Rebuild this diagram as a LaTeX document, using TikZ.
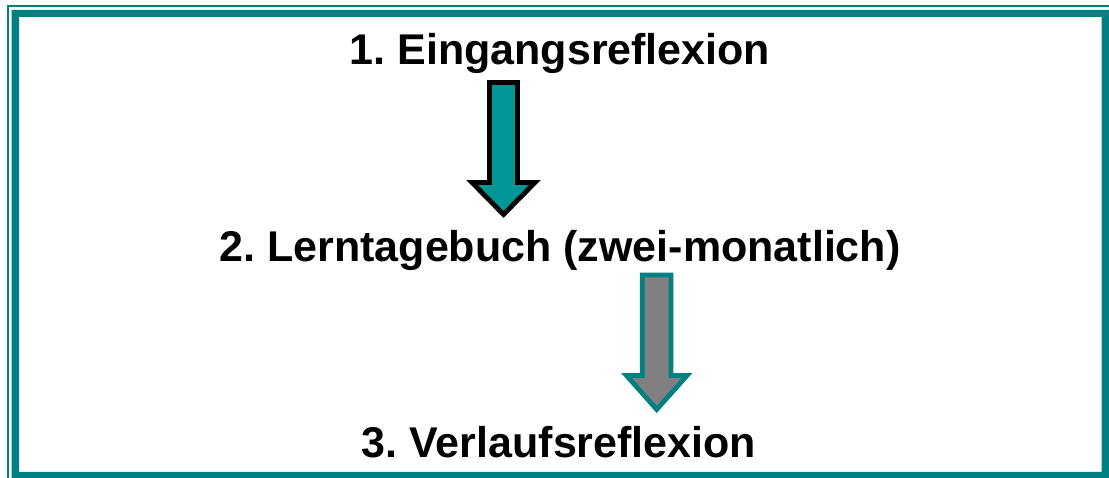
\documentclass[tikz,border=0pt]{standalone}
\usepackage{fontspec}
\setmainfont{Liberation Sans}
\frenchspacing
\definecolor{frameteal}{RGB}{0,128,128}
\definecolor{fillteal}{RGB}{0,150,150}
\definecolor{fillgray}{RGB}{128,128,128}
\tikzset{
  steptext/.style={inner sep=0pt, anchor=base,
    font=\fontsize{43}{50}\selectfont\bfseries},
  blockarrow/.style={line width=4.8pt, line join=miter, miter limit=10},
}
\begin{document}
\begin{tikzpicture}[x=1pt,y=-1pt]
\useasboundingbox (0,0) rectangle (1109,478);

% thin outer rule, top and left
\fill[frameteal] (7,5) rectangle (1109,7.3);
\fill[frameteal] (7,5) rectangle (9.2,478);

% thick frame
\fill[frameteal, even odd rule]
  (11.5,10) rectangle (1109,478)
  (19,16.8) rectangle (1101.7,471.8);

% the three steps
\node[steptext] (t1) at (560,64.5) {1. Eingangsreflexion};
\node[steptext] (t2) at (560,262) {2. Lerntagebuch (zwei-monatlich)};
\node[steptext] (t3) at (559,457) {3. Verlaufsreflexion};

% block arrow from step 1 to step 2
\draw[blockarrow, draw=black, fill=fillteal]
  (489.5,82.5) -- (517.5,82.5) -- (517.5,182.5) -- (535,182.5)
  -- (503.5,214.5) -- (472,182.5) -- (489.5,182.5) -- cycle;

% block arrow from step 2 to step 3
\draw[blockarrow, draw=frameteal, fill=fillgray]
  (642.3,275) -- (671,275) -- (671,375.5) -- (687,375.5)
  -- (656.7,409.5) -- (626.5,375.5) -- (642.3,375.5) -- cycle;
\end{tikzpicture}
\end{document}
